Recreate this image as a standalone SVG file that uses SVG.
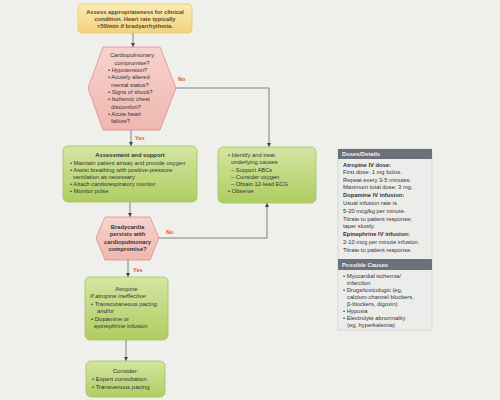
<svg xmlns="http://www.w3.org/2000/svg" width="500" height="400" viewBox="0 0 500 400">
<defs>
<linearGradient id="gy" x1="0" y1="0" x2="0" y2="1"><stop offset="0" stop-color="#fbecb8"/><stop offset="1" stop-color="#f3d27c"/></linearGradient>
<linearGradient id="gp" x1="0" y1="0" x2="0" y2="1"><stop offset="0" stop-color="#f7d3cd"/><stop offset="1" stop-color="#efb7af"/></linearGradient>
<linearGradient id="gg" x1="0" y1="0" x2="0" y2="1"><stop offset="0" stop-color="#d4e5a2"/><stop offset="1" stop-color="#afcd62"/></linearGradient>
<marker id="ah" viewBox="0 0 10 10" refX="10" refY="5" markerWidth="4" markerHeight="4" markerUnits="userSpaceOnUse" orient="auto"><path d="M0,0L10,5L0,10z" fill="#444"/></marker>
<style>
text{font-family:"Liberation Sans",Arial,sans-serif;font-size:5.8px;fill:#333}
.b{font-weight:bold}
.c{text-anchor:middle}
.i{font-style:italic}
.s{font-size:6px}
.lab{fill:#e0552e;font-weight:bold;font-size:5.6px}
.yel{fill:url(#gy);stroke:#e9c66e;stroke-width:0.8}
.hex{fill:url(#gp);stroke:#e08c86;stroke-width:0.8}
.grn{fill:url(#gg);stroke:#a3c35a;stroke-width:0.8}
.con{fill:none;stroke:#555;stroke-width:0.7;marker-end:url(#ah)}
.hdr{fill:#6c707b}
.hdt{fill:#f4f4f4;font-weight:bold}
</style>
</defs>
<rect width="500" height="400" fill="#efefec"/>

<g id="connectors">
<path class="con" d="M133,33V47"/>
<path class="con" d="M131,130V146"/>
<path class="con" d="M176,88H269V147"/>
<path class="con" d="M130,202V217"/>
<path class="con" d="M159,238H267V203"/>
<path class="con" d="M128,260V277"/>
<path class="con" d="M126,340V361"/>
<text class="lab" x="178" y="81">No</text>
<text class="lab" x="135" y="140">Yes</text>
<text class="lab" x="166" y="234">No</text>
<text class="lab" x="133" y="272">Yes</text>
</g>

<g id="assess">
<rect class="yel" x="78" y="4" width="114" height="29" rx="4"/>
<text class="c b" x="135" y="14" style="fill:#5a4a2a">Assess appropriateness for clinical</text>
<text class="c b" x="135" y="21" style="fill:#5a4a2a">condition. Heart rate typically</text>
<text class="c b" x="135" y="28" style="fill:#5a4a2a">&lt;50/min if bradyarrhythmia.</text>
</g>

<g id="compromise">
<polygon class="hex" points="103,47 160,47 176,88 160,130 103,130 88,88"/>
<text class="c" x="132" y="57">Cardiopulmonary</text>
<text class="c" x="132" y="64.5">compromise?</text>
<text x="108" y="72">• Hypotension?</text>
<text x="108" y="79">• Acutely altered</text>
<text x="111" y="86.5">mental status?</text>
<text x="108" y="94">• Signs of shock?</text>
<text x="108" y="101">• Ischemic chest</text>
<text x="111" y="108.5">discomfort?</text>
<text x="108" y="116">• Acute heart</text>
<text x="111" y="123">failure?</text>
</g>

<g id="support">
<rect class="grn" x="63" y="146" width="134" height="56" rx="5"/>
<text class="c b" x="130" y="157">Assessment and support</text>
<text x="70" y="165">• Maintain patient airway and provide oxygen</text>
<text x="70" y="172">• Assist breathing with positive-pressure</text>
<text x="73" y="179">ventilation as necessary</text>
<text x="70" y="186">• Attach cardiorespiratory monitor</text>
<text x="70" y="193">• Monitor pulse</text>
</g>

<g id="identify">
<rect class="grn" x="218" y="147" width="98" height="56" rx="5"/>
<text x="228" y="157">• Identify and treat</text>
<text x="231" y="164">underlying causes</text>
<text x="231" y="171.5">– Support ABCs</text>
<text x="231" y="179">– Consider oxygen</text>
<text x="231" y="186">– Obtain 12-lead ECG</text>
<text x="228" y="193">• Observe</text>
</g>

<g id="persists">
<polygon class="hex" points="105,217 150,217 159,238 150,260 105,260 96,238"/>
<text class="c b" x="127.5" y="229">Bradycardia</text>
<text class="c b" x="127.5" y="236">persists with</text>
<text class="c b" x="127.5" y="243.5">cardiopulmonary</text>
<text class="c b" x="127.5" y="251">compromise?</text>
</g>

<g id="atropine">
<rect class="grn" x="85" y="277" width="83" height="63" rx="5"/>
<text class="c s" x="126.5" y="291">Atropine</text>
<text class="i s" x="90" y="298">If atropine ineffective:</text>
<text class="s" x="91" y="306">• Transcutaneous pacing</text>
<text class="i s" x="97" y="313">and/or</text>
<text class="s" x="91" y="321">• Dopamine or</text>
<text class="s" x="94" y="328">epinephrine infusion</text>
</g>

<g id="consider">
<rect class="grn" x="86" y="361" width="79" height="36" rx="5"/>
<text class="c s" x="125.5" y="373">Consider:</text>
<text class="s" x="92" y="381">• Expert consultation</text>
<text class="s" x="92" y="389">• Transvenous pacing</text>
</g>

<g id="doses">
<rect x="338" y="149" width="94" height="181" fill="#ececea" stroke="#c9c9c9" stroke-width="0.6"/>
<rect class="hdr" x="338" y="149" width="94" height="10"/>
<text class="hdt" x="342" y="156">Doses/Details</text>
<text class="b" x="343" y="166.5">Atropine IV dose:</text>
<text x="343" y="174">First dose: 1 mg bolus.</text>
<text x="343" y="181.5">Repeat every 3-5 minutes.</text>
<text x="343" y="189">Maximum total dose: 3 mg.</text>
<text class="b" x="343" y="197">Dopamine IV infusion:</text>
<text x="343" y="205">Usual infusion rate is</text>
<text x="343" y="212.5">5-20 mcg/kg per minute.</text>
<text x="343" y="220.5">Titrate to patient response;</text>
<text x="343" y="228">taper slowly.</text>
<text class="b" x="343" y="236">Epinephrine IV infusion:</text>
<text x="343" y="243.5">2-10 mcg per minute infusion.</text>
<text x="343" y="251.5">Titrate to patient response.</text>
</g>

<g id="causes">
<rect class="hdr" x="338" y="259" width="94" height="11"/>
<text class="hdt" x="342" y="266.5">Possible Causes</text>
<text x="343" y="277.5">• Myocardial ischemia/</text>
<text x="347" y="284.5">infarction</text>
<text x="343" y="291.5">• Drugs/toxicologic (eg,</text>
<text x="347" y="298.5">calcium-channel blockers,</text>
<text x="347" y="305.5">β-blockers, digoxin)</text>
<text x="343" y="312.5">• Hypoxia</text>
<text x="343" y="319.5">• Electrolyte abnormality</text>
<text x="347" y="326.5">(eg, hyperkalemia)</text>
</g>
</svg>
